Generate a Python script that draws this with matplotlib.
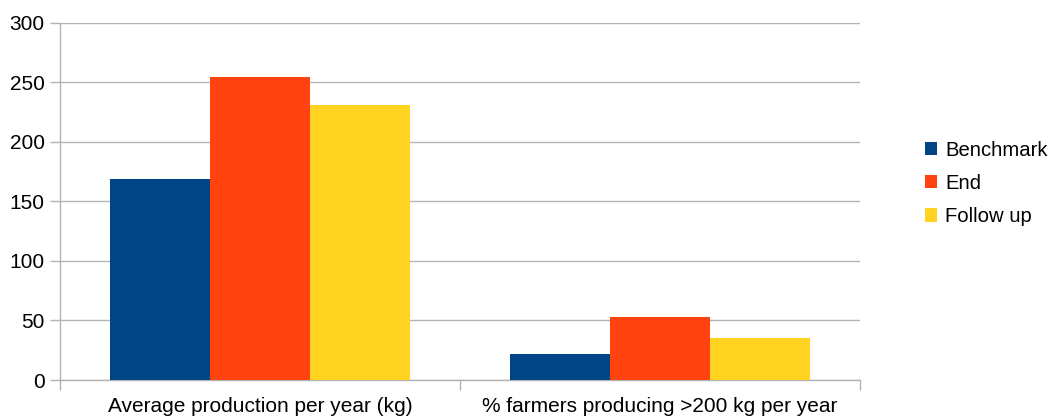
import numpy as np
import matplotlib
matplotlib.use("Agg")
import matplotlib.pyplot as plt

plt.rcParams['font.family'] = ['Liberation Sans', 'DejaVu Sans']

# данные
categories = ["Average production per year (kg)", "% farmers producing >200 kg per year"]
series_names = ["Benchmark", "End", "Follow up"]
benchmark = [169, 22]
end = [254, 53]
follow_up = [231, 35]
colors = ["#004586", "#ff420e", "#ffd320"]

W, H = 1053, 418
fig = plt.figure(figsize=(W / 100, H / 100), dpi=100)
ax = fig.add_axes([60 / W, (H - 380) / H, 800 / W, (380 - 22.7) / H])

x = np.arange(len(categories))
width = 0.25
for i, (vals, name) in enumerate(zip([benchmark, end, follow_up], series_names)):
    ax.bar(x + (i - 1) * width, vals, width, color=colors[i], label=name, zorder=3)

ax.set_xlim(-0.5, 1.5)
ax.set_ylim(0, 300)
ax.set_yticks(range(0, 301, 50))
ax.yaxis.grid(True, color="#b3b3b3", linewidth=1, zorder=0)

# подписи категорий без засечек, засечки между категориями
ax.set_xticks(x)
ax.set_xticklabels(categories, fontsize=15)
ax.tick_params(axis='x', length=0, pad=12)
ax.set_xticks([-0.5, 0.5, 1.5], minor=True)
ax.tick_params(axis='x', which='minor', length=7, color="#b3b3b3", width=1)
ax.tick_params(axis='y', length=7, color="#b3b3b3", width=1, labelsize=15, pad=4)

for s in ['top', 'right']:
    ax.spines[s].set_visible(False)
for s in ['left', 'bottom']:
    ax.spines[s].set_color("#b3b3b3")
    ax.spines[s].set_linewidth(1)

leg = ax.legend(loc='center left', bbox_to_anchor=(1.058, 0.55), frameon=False,
                fontsize=14.6, handlelength=0.62, handleheight=0.62,
                handletextpad=0.38, labelspacing=0.7)

fig.savefig("out.png", dpi=100)
